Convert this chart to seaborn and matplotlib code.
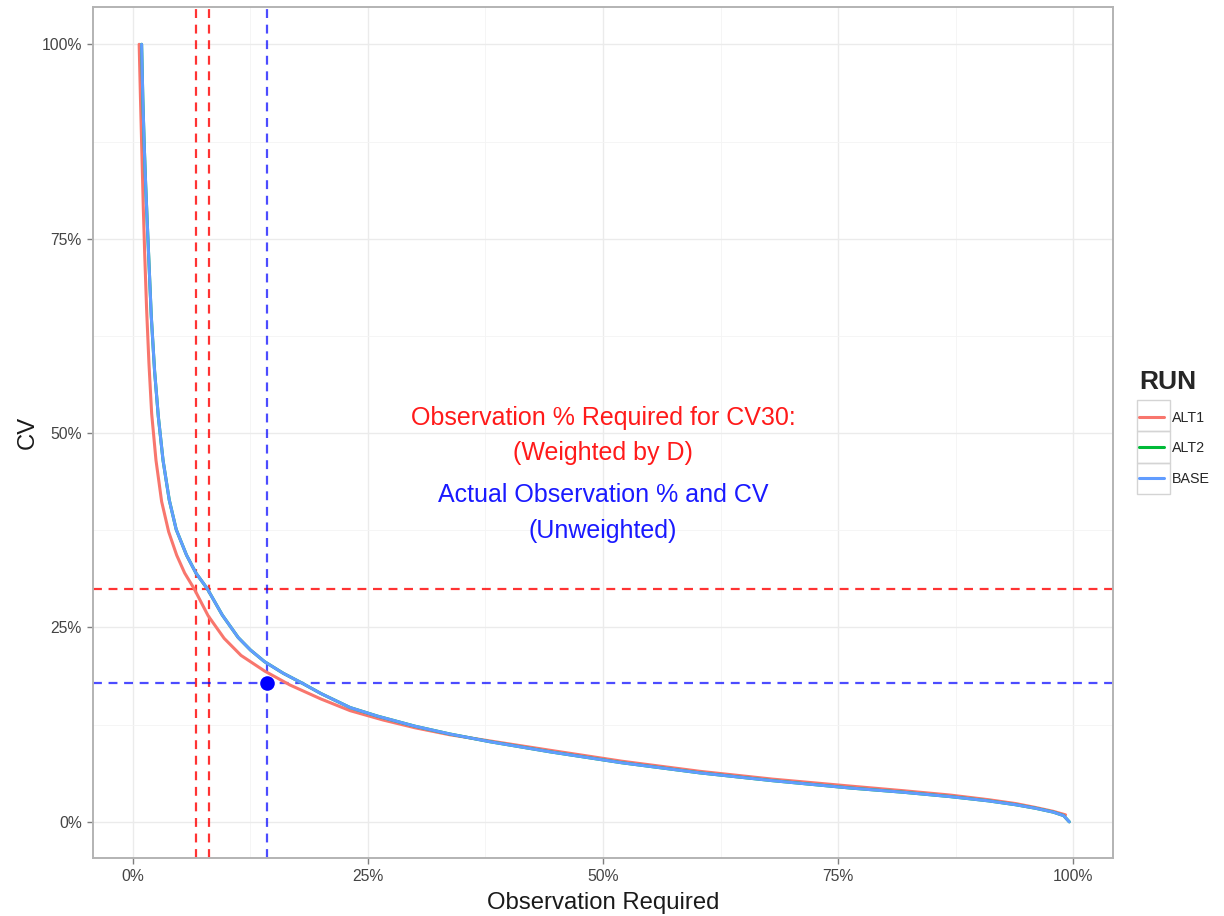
import numpy as np
import pandas as pd
import matplotlib
matplotlib.use("Agg")
import matplotlib.pyplot as plt
from matplotlib.lines import Line2D
from matplotlib.patches import Rectangle
from matplotlib.ticker import FuncFormatter, MultipleLocator
import seaborn as sns

# ---------------- data (percent) ----------------
alt1_x = [0.66, 0.8, 0.95, 1.1, 1.25, 1.45, 1.7, 1.99, 2.45, 3.05, 3.8, 4.65, 5.5, 6.5, 8.0,
          9.7, 11.5, 14.0, 16.7, 20.0, 23.1, 26.6, 30.0, 33.7, 38.0, 44.4, 52.0, 60.3, 68.0,
          76.3, 82.0, 86.9, 91.0, 93.9, 96.0, 97.9, 99.2]
alt1_cv = [100, 93, 86, 79, 73, 66, 59, 52.5, 46.5, 41.2, 37.3, 34.3, 32.0, 30.0, 26.5,
           23.6, 21.4, 19.4, 17.6, 15.8, 14.3, 13.1, 12.1, 11.2, 10.4, 9.2, 7.8, 6.5, 5.5,
           4.6, 4.0, 3.45, 2.85, 2.35, 1.85, 1.35, 0.9]

base_x = [0.92, 1.05, 1.2, 1.35, 1.51, 1.7, 1.95, 2.3, 2.7, 3.2, 3.86, 4.6, 5.7, 6.7, 7.9,
          9.5, 11.2, 12.5, 14.0, 16.0, 17.9, 20.0, 23.1, 26.0, 30.0, 33.7, 38.0, 44.4, 52.0,
          60.3, 68.0, 76.3, 82.0, 86.9, 91.0, 93.9, 96.0, 97.9, 99.0, 99.6]
base_cv = [100, 93, 87, 82, 77.4, 72, 65, 58, 52.1, 46.5, 41.4, 37.6, 34.3, 32.0, 30.0,
           26.6, 23.7, 22.1, 20.6, 19.1, 17.9, 16.5, 14.7, 13.6, 12.3, 11.3, 10.3, 9.0, 7.6,
           6.3, 5.3, 4.35, 3.8, 3.25, 2.7, 2.2, 1.75, 1.25, 0.8, 0.0]

# ALT2 coincides with BASE (hidden beneath it)
alt2_x = list(base_x)
alt2_cv = list(base_cv)

runs = ["ALT1", "ALT2", "BASE"]
run_colors = ["#F8766D", "#00BA38", "#619CFF"]

req_cv = 30.0                     # CV30 target
req_obs = [6.66, 8.07]            # observation % required (weighted by D)
actual_obs = 14.25                # actual observation %
actual_cv = 17.9                  # actual CV

x_ticks = [0, 25, 50, 75, 100]
y_ticks = [0, 25, 50, 75, 100]

df = pd.concat([
    pd.DataFrame({"obs": alt1_x, "cv": alt1_cv, "RUN": "ALT1"}),
    pd.DataFrame({"obs": alt2_x, "cv": alt2_cv, "RUN": "ALT2"}),
    pd.DataFrame({"obs": base_x, "cv": base_cv, "RUN": "BASE"}),
], ignore_index=True)

# ---------------- style ----------------
sns.set_theme(style="white")
plt.rcParams["font.family"] = ["Liberation Sans", "DejaVu Sans"]

W, H = 1224, 916
fig = plt.figure(figsize=(W / 100, H / 100), dpi=100)
ax = fig.add_axes([93 / W, 1 - 858 / H, (1113 - 93) / W, (858 - 7) / H])

palette = dict(zip(runs, run_colors))
sns.lineplot(data=df, x="obs", y="cv", hue="RUN", hue_order=runs, palette=palette,
             sort=False, estimator=None, lw=2.2, ax=ax, legend=False, zorder=3)

# reference lines
dash = (0, (4, 3))
for xv in req_obs:
    ax.axvline(xv, color="#FF0000", lw=1.6, ls=dash, alpha=0.8, zorder=2)
ax.axhline(req_cv, color="#FF0000", lw=1.6, ls=dash, alpha=0.8, zorder=2)
ax.axvline(actual_obs, color="#0000FF", lw=1.6, ls=dash, alpha=0.7, zorder=2)
ax.axhline(actual_cv, color="#0000FF", lw=1.6, ls=dash, alpha=0.7, zorder=2)
ax.scatter([actual_obs], [actual_cv], s=110, color="#0000FF", zorder=5, linewidths=0)

# annotations
ax.text(50, 51.9, "Observation % Required for CV30:", color="#FF1A1A", fontsize=18,
        ha="center", va="center")
ax.text(50, 47.4, "(Weighted by D)", color="#FF1A1A", fontsize=18, ha="center", va="center")
ax.text(50, 42.0, "Actual Observation % and CV", color="#1A1AFF", fontsize=18,
        ha="center", va="center")
ax.text(50, 37.4, "(Unweighted)", color="#1A1AFF", fontsize=18, ha="center", va="center")

# axes
ax.set_xlim(-4.25, 104.25)
ax.set_ylim(-4.65, 104.8)
ax.set_xticks(x_ticks)
ax.set_yticks(y_ticks)
pct = FuncFormatter(lambda v, p: f"{v:.0f}%")
ax.xaxis.set_major_formatter(pct)
ax.yaxis.set_major_formatter(pct)
ax.xaxis.set_minor_locator(MultipleLocator(12.5))
ax.yaxis.set_minor_locator(MultipleLocator(12.5))
ax.grid(which="major", color="#EBEBEB", lw=1.0)
ax.grid(which="minor", color="#F4F4F4", lw=0.6)
ax.set_axisbelow(True)
ax.tick_params(axis="both", which="major", length=4, width=1, color="#7F7F7F",
               labelsize=11.3, labelcolor="#444444", pad=4, direction="out",
               bottom=True, left=True)
ax.tick_params(axis="both", which="minor", length=0)
for s in ax.spines.values():
    s.set_color("#B3B3B3")
    s.set_linewidth(1.4)

ax.set_xlabel("Observation Required", fontsize=17.2, color="#1A1A1A", labelpad=6)
ax.set_ylabel("CV", fontsize=17.2, color="#1A1A1A", labelpad=2)

# legend (ggplot-like)
handles = [Line2D([], [], color=c, lw=2.2) for c in run_colors]
leg = fig.legend(handles, runs, loc="upper left", bbox_to_anchor=(1135 / W, 1 - 366 / H),
                 frameon=False, fontsize=10.3, title="RUN",
                 title_fontproperties={"weight": "bold", "size": 19},
                 handlelength=1.75, handletextpad=0.5, labelspacing=1.15,
                 alignment="left", borderaxespad=0, borderpad=0.3)
for i in range(3):
    y0 = 400 + i * 31.3
    fig.add_artist(Rectangle((1137 / W, 1 - (y0 + 31.3) / H), 33 / W, 31.3 / H,
                             transform=fig.transFigure, fill=False, ec="#D4D4D4", lw=1.0))

fig.savefig("out.png", dpi=100)
